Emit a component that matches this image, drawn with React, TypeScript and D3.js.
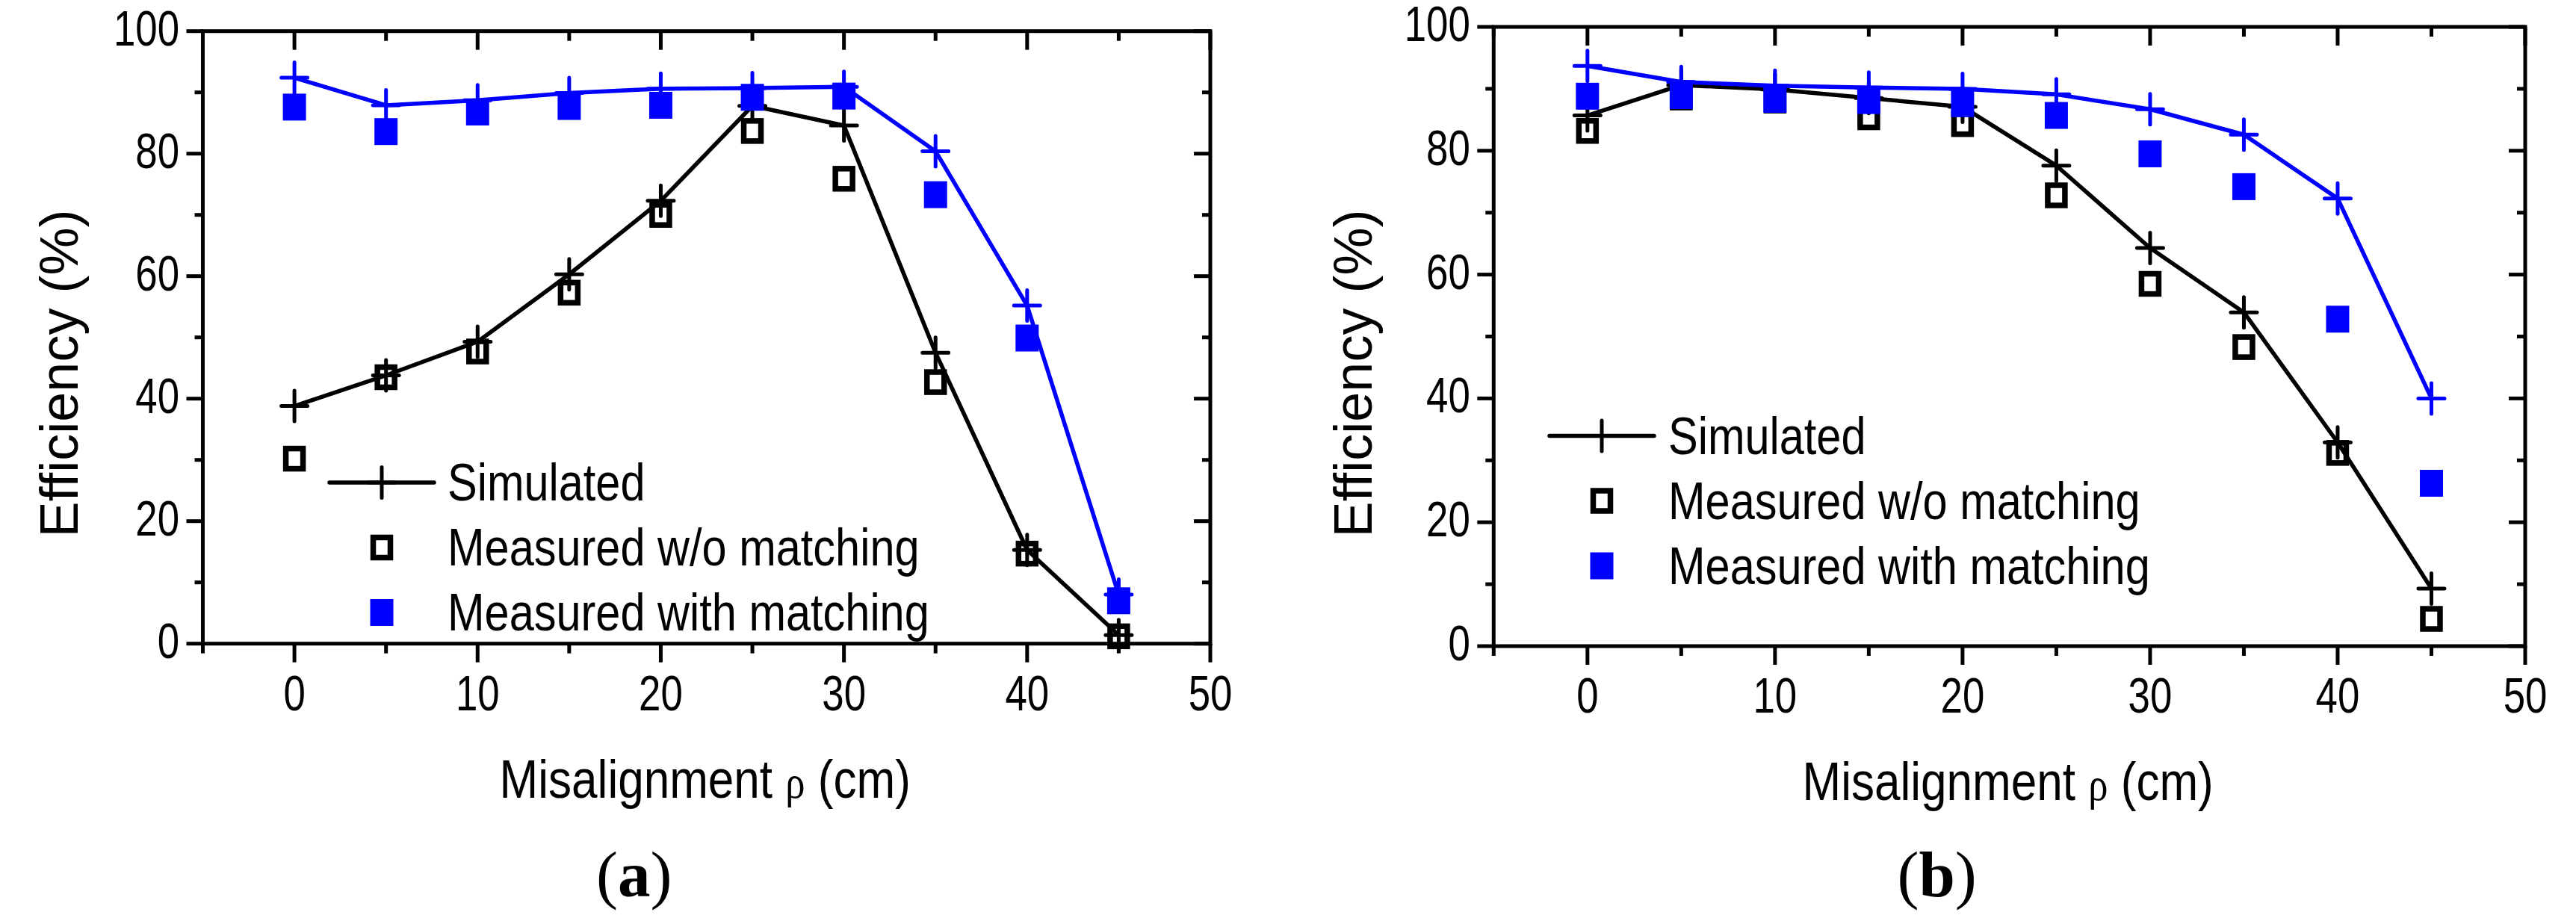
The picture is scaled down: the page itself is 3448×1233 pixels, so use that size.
import React from "react";
import * as d3 from "d3";

const W = 3448;
const H = 1233;

const xValues = [0, 5, 10, 15, 20, 25, 30, 35, 40, 45];

// Panel (a)
const aSimulated = [38.8, 43.8, 49.3, 60.3, 72.3, 87.8, 84.6, 47.5, 15.3, 1.4];
const aMeasuredWithout = [30.2, 43.5, 47.7, 57.3, 70.0, 83.7, 75.9, 42.7, 14.7, 1.2];
const aSimulatedMatched = [92.4, 87.9, 88.7, 89.9, 90.6, 90.7, 90.9, 80.4, 55.2, 8.0];
const aMeasuredWith = [87.6, 83.6, 86.8, 87.7, 87.9, 89.2, 89.4, 73.3, 49.9, 7.0];

// Panel (b)
const bSimulated = [85.7, 90.6, 89.9, 88.5, 87.1, 77.6, 64.3, 53.9, 32.9, 9.3];
const bMeasuredWithout = [83.2, 88.6, 88.1, 85.4, 84.3, 72.8, 58.5, 48.3, 31.2, 4.4];
const bSimulatedMatched = [93.7, 91.1, 90.5, 90.2, 90.0, 89.1, 86.7, 82.6, 72.3, 40.0];
const bMeasuredWith = [88.8, 88.9, 88.3, 88.1, 87.6, 85.7, 79.5, 74.2, 52.8, 26.3];

const xDomain: [number, number] = [-5, 50];
const yDomain: [number, number] = [0, 100];
const xMajorTicks = [0, 10, 20, 30, 40, 50];
const xMinorTicks = [-5, 5, 15, 25, 35, 45];
const yMajorTicks = [0, 20, 40, 60, 80, 100];
const yMinorTicks = [10, 30, 50, 70, 90];

const legendLabels = ["Simulated", "Measured w/o matching", "Measured with matching"];
const yTitle = "Efficiency (%)";

const BLUE = "#0000FF";
const SANS = "'Liberation Sans', Arial, sans-serif";
const SERIF = "'Liberation Serif', 'Times New Roman', serif";

type Panel = {
  caption: string;
  left: number;
  right: number;
  top: number;
  bottom: number;
  sim: number[];
  meas: number[];
  simB: number[];
  measB: number[];
  legendLineX: number;
  legendY: number;
  legendTextX: number;
  yTitleX: number;
};

const panels: Panel[] = [
  {
    caption: "a",
    left: 271.5,
    right: 1620,
    top: 41.7,
    bottom: 861.7,
    sim: aSimulated,
    meas: aMeasuredWithout,
    simB: aSimulatedMatched,
    measB: aMeasuredWith,
    legendLineX: 441,
    legendY: 646,
    legendTextX: 599,
    yTitleX: 103.5,
  },
  {
    caption: "b",
    left: 1999.3,
    right: 3380,
    top: 36,
    bottom: 865,
    sim: bSimulated,
    meas: bMeasuredWithout,
    simB: bSimulatedMatched,
    measB: bMeasuredWith,
    legendLineX: 2074,
    legendY: 583.5,
    legendTextX: 2233,
    yTitleX: 1836,
  },
];

const NText = ({
  x,
  y,
  size,
  sx,
  anchor,
  children,
}: {
  x: number;
  y: number;
  size: number;
  sx: number;
  anchor: string;
  children: React.ReactNode;
}) => (
  <text
    transform={`translate(${x},${y}) scale(${sx},1)`}
    fontFamily={SANS}
    fontSize={size}
    textAnchor={anchor}
    fill="#000"
  >
    {children}
  </text>
);

const Plus = ({ x, y, color }: { x: number; y: number; color: string }) => (
  <path
    d={`M${x - 17.5},${y}H${x + 17.5}M${x},${y - 20.5}V${y + 20.5}`}
    stroke={color}
    strokeWidth={5}
    strokeLinecap="round"
    fill="none"
  />
);

const OpenSquare = ({ x, y }: { x: number; y: number }) => (
  <rect x={x - 11.5} y={y - 13.5} width={23} height={27} fill="none" stroke="#000" strokeWidth={7.5} />
);

const FilledSquare = ({ x, y }: { x: number; y: number }) => (
  <rect x={x - 15.5} y={y - 18} width={31} height={36} fill={BLUE} />
);

const PanelView = ({ p }: { p: Panel }) => {
  const x = d3.scaleLinear().domain(xDomain).range([p.left, p.right]);
  const y = d3.scaleLinear().domain(yDomain).range([p.bottom, p.top]);
  const line = d3
    .line<number>()
    .x((_, i) => x(xValues[i]))
    .y((d) => y(d));
  const midX = (p.left + p.right) / 2;
  const ax = { stroke: "#000", strokeWidth: 5 };

  return (
    <g>
      {/* ticks */}
      {xMajorTicks.map((t) => (
        <g key={"xM" + t}>
          <line x1={x(t)} x2={x(t)} y1={p.bottom} y2={p.bottom + 25} {...ax} />
          <line x1={x(t)} x2={x(t)} y1={p.top} y2={p.top + 25} {...ax} />
        </g>
      ))}
      {xMinorTicks.map((t) => (
        <g key={"xm" + t}>
          <line x1={x(t)} x2={x(t)} y1={p.bottom} y2={p.bottom + 13} {...ax} />
          <line x1={x(t)} x2={x(t)} y1={p.top} y2={p.top + 13} {...ax} />
        </g>
      ))}
      {yMajorTicks.map((t) => (
        <g key={"yM" + t}>
          <line x1={p.left - 22} x2={p.left} y1={y(t)} y2={y(t)} {...ax} />
          <line x1={p.right - 22} x2={p.right} y1={y(t)} y2={y(t)} {...ax} />
        </g>
      ))}
      {yMinorTicks.map((t) => (
        <g key={"ym" + t}>
          <line x1={p.left - 11} x2={p.left} y1={y(t)} y2={y(t)} {...ax} />
          <line x1={p.right - 11} x2={p.right} y1={y(t)} y2={y(t)} {...ax} />
        </g>
      ))}
      {/* frame */}
      <rect
        x={p.left}
        y={p.top}
        width={p.right - p.left}
        height={p.bottom - p.top}
        fill="none"
        {...ax}
      />
      {/* tick labels */}
      {xMajorTicks.map((t) => (
        <NText key={"xl" + t} x={x(t)} y={p.bottom + 89} size={66} sx={0.8} anchor="middle">
          {String(t)}
        </NText>
      ))}
      {yMajorTicks.map((t) => (
        <NText key={"yl" + t} x={p.left - 31.5} y={y(t) + 19} size={66} sx={0.8} anchor="end">
          {String(t)}
        </NText>
      ))}
      {/* axis titles */}
      <text
        transform={`translate(${p.yTitleX},500) rotate(-90)`}
        fontFamily={SANS}
        fontSize={72}
        textAnchor="middle"
        fill="#000"
      >
        {yTitle}
      </text>
      <text
        transform={`translate(${midX - 2},${p.bottom + 206}) scale(0.85,1)`}
        fontFamily={SANS}
        fontSize={73}
        textAnchor="middle"
        fill="#000"
      >
        Misalignment{" "}
        <tspan fontFamily={SERIF} fontSize={62}>
          ρ
        </tspan>{" "}
        (cm)
      </text>
      <text x={midX - 97} y={1200} fontFamily={SERIF} fontSize={87} textAnchor="middle" fill="#000">
        (<tspan fontWeight="bold">{p.caption}</tspan>)
      </text>
      {/* data */}
      <path d={line(p.sim) || ""} fill="none" stroke="#000" strokeWidth={5.5} strokeLinejoin="round" />
      {p.sim.map((v, i) => (
        <Plus key={"ps" + i} x={x(xValues[i])} y={y(v)} color="#000" />
      ))}
      {p.meas.map((v, i) => (
        <OpenSquare key={"om" + i} x={x(xValues[i])} y={y(v)} />
      ))}
      <path d={line(p.simB) || ""} fill="none" stroke={BLUE} strokeWidth={5.5} strokeLinejoin="round" />
      {p.simB.map((v, i) => (
        <Plus key={"pb" + i} x={x(xValues[i])} y={y(v)} color={BLUE} />
      ))}
      {p.measB.map((v, i) => (
        <FilledSquare key={"fm" + i} x={x(xValues[i])} y={y(v)} />
      ))}
      {/* legend */}
      <line
        x1={p.legendLineX}
        x2={p.legendLineX + 140}
        y1={p.legendY}
        y2={p.legendY}
        stroke="#000"
        strokeWidth={5.5}
        strokeLinecap="round"
      />
      <Plus x={p.legendLineX + 70} y={p.legendY} color="#000" />
      <OpenSquare x={p.legendLineX + 70} y={p.legendY + 87} />
      <FilledSquare x={p.legendLineX + 70} y={p.legendY + 174} />
      {legendLabels.map((lab, i) => (
        <NText key={lab} x={p.legendTextX} y={p.legendY + 24 + i * 87} size={70} sx={0.85} anchor="start">
          {lab}
        </NText>
      ))}
    </g>
  );
};

export default function App() {
  return (
    <svg
      width={W}
      height={H}
      viewBox={`0 0 ${W} ${H}`}
      style={{ position: "absolute", left: 0, top: 0, display: "block", background: "#fff" }}
    >
      <rect x={0} y={0} width={W} height={H} fill="#fff" />
      {panels.map((p) => (
        <PanelView key={p.caption} p={p} />
      ))}
    </svg>
  );
}
